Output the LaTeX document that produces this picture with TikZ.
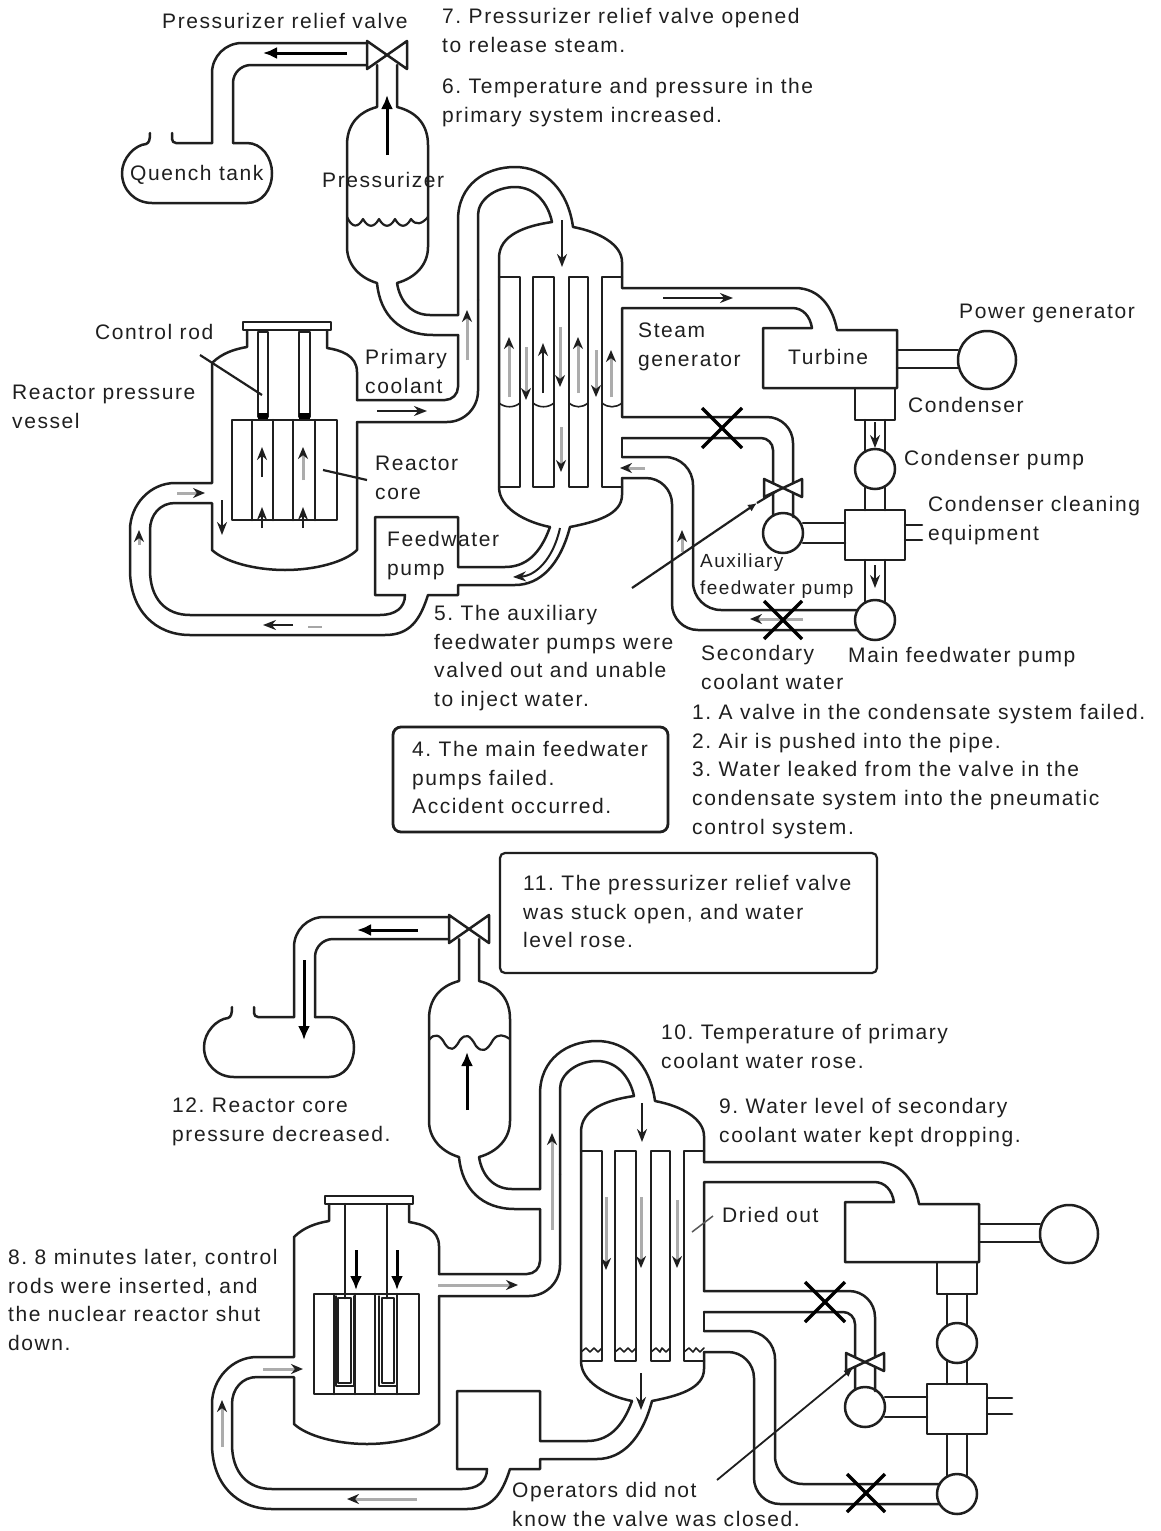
\documentclass[tikz,border=0pt]{standalone}
\usepackage{fontspec}
\setmainfont[LetterSpace=7.5]{Liberation Sans}
\usetikzlibrary{arrows.meta}
\frenchspacing
\definecolor{ink}{gray}{0.12}
\tikzset{
  pipe/.style={draw=ink,line width=2.5pt,line join=round,line cap=round},
  wavy/.style={pipe,line width=2.2pt},
  txt/.style={anchor=north west,inner sep=0pt,align=left,text=ink,
    font=\fontsize{21}{28.7}\selectfont\frenchspacing,execute at begin node={\rule{0pt}{20pt}}},
  smalltxt/.style={txt,font=\fontsize{19}{27}\selectfont\frenchspacing},
  blackarrow/.style={draw=black,line width=3pt,-{Latex[length=14pt,width=12pt]}},
  darkarrow/.style={draw=ink,line width=2pt,-{Stealth[length=13pt,width=10pt]}},
  grayarrow/.style={draw=gray!65,line width=3pt,-{Stealth[length=12pt,width=10pt,color=ink]}},
  crossbar/.style={draw=black,line width=3.4pt},
  leader/.style={draw=ink,line width=2.2pt},
  callout/.style={draw=ink,line width=2.8pt}
}
\newcommand{\tiedvalve}[4]{% cx cy halfwidth halfheight
  \draw[pipe,fill=white] (#1,#2) -- (#1-#3,#2-#4) -- (#1-#3,#2+#4) -- cycle;
  \draw[pipe,fill=white] (#1,#2) -- (#1+#3,#2-#4) -- (#1+#3,#2+#4) -- cycle;}
\newcommand{\crossout}[3]{% cx cy half
  \draw[crossbar] (#1-#3,#2-#3) -- (#1+#3,#2+#3);
  \draw[crossbar] (#1-#3,#2+#3) -- (#1+#3,#2-#3);}
\newcommand{\levelbump}[3]{% x1 x2 y
  \draw[pipe,line width=1.6pt] (#1,#3) .. controls (#1+6,#3+5) and (#2-6,#3+5) .. (#2,#3);}
\newcommand{\plantbase}{%
  % relief line and quench tank
  \draw[pipe,rounded corners=30pt] (367,43) -- (212,43) -- (212,143);
  \draw[pipe,rounded corners=4pt] (212,143) -- (172,143) -- (172,133);
  \draw[pipe,rounded corners=18pt] (367,65) -- (233,65) -- (233,143);
  \draw[pipe] (233,143) -- (247,143) .. controls (262,143) and (272,158) .. (272,173)
     .. controls (272,190) and (262,203) .. (247,203) -- (152,203)
     .. controls (135,203) and (122,190) .. (122,173)
     .. controls (122,158) and (135,145) .. (146,144) .. controls (149,143) and (150,140) .. (150,133);
  % pressurizer and surge line
  \draw[pipe] (377,65) -- (377,107) .. controls (358,112) and (347,125) .. (347,145) -- (347,247)
     .. controls (347,265) and (360,278) .. (377,283) .. controls (380,315) and (400,335) .. (433,335) -- (458,335);
  \draw[pipe] (397,65) -- (397,107) .. controls (417,112) and (428,125) .. (428,145) -- (428,247)
     .. controls (428,265) and (415,278) .. (397,283) .. controls (400,302) and (412,315) .. (430,315) -- (458,315);
  % hot leg
  \draw[pipe] (458,315) -- (458,220) .. controls (458,185) and (485,167) .. (515,167)
     .. controls (545,167) and (568,190) .. (573,227) .. controls (600,232) and (622,245) .. (622,262) -- (622,288);
  \draw[pipe,rounded corners=13pt] (458,335) -- (458,400) -- (357,400);
  \draw[pipe,rounded corners=31pt] (357,422) -- (478,422) -- (478,300);
  \draw[pipe] (478,300) -- (478,215) .. controls (478,200) and (495,187) .. (515,187)
     .. controls (535,187) and (548,203) .. (552,222) .. controls (525,226) and (499,235) .. (499,258) -- (499,487)
     .. controls (499,508) and (525,522) .. (550,527);
  % steam generator tubes
  \draw[pipe] (499,277) -- (520,277) -- (520,487) -- (499,487);
  \draw[pipe] (533,277) rectangle (554,487);
  \draw[pipe] (569,277) rectangle (588,487);
  \draw[pipe] (622,277) -- (602,277) -- (602,487) -- (622,487);
  \draw[pipe] (622,478) -- (622,495) .. controls (622,515) and (595,522) .. (570,527);
  % steam line and turbine
  \draw[pipe] (622,288) -- (795,288) .. controls (820,288) and (833,308) .. (837,330) -- (897,330) -- (897,388) -- (763,388) -- (763,328) -- (812,328)
     .. controls (810,316) and (803,308) .. (792,308) -- (622,308) -- (622,417);
  \draw[pipe] (897,350) -- (958,350);
  \draw[pipe] (897,368) -- (958,368);
  \draw[pipe] (987,360) circle[radius=29pt];
  % condenser train
  \draw[pipe] (855,388) rectangle (895,420);
  \draw[pipe] (865,420) -- (865,452);
  \draw[pipe] (885,420) -- (885,452);
  \draw[pipe] (875,469) circle[radius=20pt];
  \draw[pipe] (865,487) -- (865,510);
  \draw[pipe] (885,487) -- (885,510);
  \draw[pipe] (845,510) rectangle (905,560);
  \draw[pipe] (865,560) -- (865,602);
  \draw[pipe] (885,560) -- (885,602);
  \draw[pipe] (875,620) circle[radius=20pt];
  % auxiliary feedwater
  \draw[pipe] (783,533) circle[radius=20pt];
  \draw[pipe] (803,523) -- (845,523);
  \draw[pipe] (803,543) -- (845,543);
  \draw[pipe,rounded corners=26pt] (622,417) -- (793,417) -- (793,517);
  \draw[pipe,rounded corners=12pt] (622,438) -- (773,438) -- (773,515);
  \draw[pipe] (622,438) -- (622,457);
  % main feedwater
  \draw[pipe,rounded corners=28pt] (622,457) -- (693,457) -- (693,610) -- (857,610);
  \draw[pipe,rounded corners=26pt] (622,478) -- (672,478) -- (672,630) -- (857,630);
  % feedwater pump and cold leg
  \draw[pipe] (550,527) .. controls (540,555) and (525,567) .. (505,567) -- (458,567) -- (458,517) -- (375,517) -- (375,595) -- (405,595)
     .. controls (405,608) and (395,615) .. (380,615) -- (190,615)
     .. controls (165,615) and (150,598) .. (150,570) -- (150,530)
     .. controls (150,515) and (160,503) .. (175,503) -- (212,503) -- (212,550)
     .. controls (225,562) and (255,570) .. (285,570) .. controls (315,570) and (345,562) .. (357,550) -- (357,422);
  \draw[pipe] (570,527) .. controls (560,565) and (540,585) .. (515,585) -- (458,585) -- (458,595) -- (428,595)
     .. controls (420,620) and (410,635) .. (385,635) -- (190,635)
     .. controls (155,635) and (130,610) .. (130,570) -- (130,530)
     .. controls (130,505) and (150,483) .. (175,483) -- (212,483) -- (212,363)
     .. controls (222,353) and (235,349) .. (247,347) -- (247,330);
  \draw[pipe] (327,330) -- (327,348) .. controls (340,350) and (357,355) .. (357,372) -- (357,400);
  \draw[pipe] (243,322) rectangle (331,330);
  % core
  \draw[pipe] (232,420) rectangle (337,520);
  \foreach \cx in {252,273,293,315}{\draw[pipe] (\cx,420) -- (\cx,520);}
  % valves
  \tiedvalve{387}{55}{20}{14}
  \tiedvalve{783}{488}{19}{9}
}
\begin{document}
\begin{tikzpicture}[x=1pt,y=-1pt]
\useasboundingbox (0,0) rectangle (1160,1531);
\fill[white] (0,0) rectangle (1160,1531);

%% ---------- upper plant ----------
\plantbase
\draw[pipe] (905,525) -- (922,525);
\draw[pipe] (905,540) -- (922,540);
% control rods
\draw[pipe] (258,332) -- (258,417) -- (268,417) -- (268,332) -- cycle;
\draw[pipe] (299,332) -- (299,417) -- (310,417) -- (310,332) -- cycle;
\fill[black] (258,413) rectangle (268,419);
\fill[black] (299,413) rectangle (310,419);
% water levels
\draw[wavy] (347,217) .. controls (352,228) and (358,228) .. (363,219) .. controls (368,228) and (374,228) .. (379,219) .. controls (384,228) and (390,228) .. (395,219) .. controls (400,228) and (406,228) .. (411,219) .. controls (416,226) and (422,224) .. (428,217);
\levelbump{499}{520}{403}
\levelbump{533}{554}{403}
\levelbump{569}{588}{403}
\levelbump{602}{622}{403}
% second bent tube below steam generator
\draw[darkarrow] (560,528) .. controls (553,560) and (535,576) .. (513,577);
% arrows
\draw[blackarrow] (347,53) -- (263,53);
\draw[blackarrow] (387,155) -- (387,95);
\draw[grayarrow] (467,360) -- (467,310);
\draw[darkarrow] (562,220) -- (562,267);
\draw[grayarrow] (509,397) -- (509,337);
\draw[darkarrow] (543,393) -- (543,343);
\draw[grayarrow] (578,393) -- (578,337);
\draw[grayarrow] (611,397) -- (611,350);
\draw[grayarrow] (526,347) -- (526,400);
\draw[grayarrow] (560,327) -- (560,387);
\draw[grayarrow] (596,350) -- (596,397);
\draw[grayarrow] (561,427) -- (561,472);
\draw[darkarrow] (663,298) -- (733,298);
\draw[grayarrow] (645,468) -- (620,468);
\draw[grayarrow] (682,552) -- (682,530);
\draw[darkarrow] (875,422) -- (875,448);
\draw[darkarrow] (875,565) -- (875,588);
\draw[grayarrow] (803,619) -- (750,619);
\draw[darkarrow] (377,411) -- (427,411);
\draw[grayarrow] (177,493) -- (205,493);
\draw[darkarrow] (222,500) -- (222,535);
\draw[grayarrow] (139,545) -- (139,530);
\draw[darkarrow] (293,625) -- (263,625);
\draw[gray!70,line width=2pt] (308,627) -- (322,627);
\draw[darkarrow] (262,477) -- (262,447);
\draw[grayarrow] (303,480) -- (303,447);
\draw[darkarrow] (262,528) -- (262,507);
\draw[darkarrow] (303,528) -- (303,507);
% crosses
\crossout{722}{428}{20}
\crossout{783}{620}{19}

%% ---------- lower plant ----------
\begin{scope}[shift={(82,874)}]
\plantbase
\draw[wavy] (347,166) .. controls (352,159) and (358,160) .. (363,170) .. controls (368,177) and (372,177) .. (378,166) .. controls (384,159) and (388,161) .. (394,172) .. controls (400,179) and (405,177) .. (411,166) .. controls (416,159) and (422,161) .. (428,165);
\foreach \xa/\xb in {499/520,533/554,569/588,602/622}{
  \draw[pipe,line width=1.6pt] (\xa,478) -- (\xa+5,474) -- (\xa+9,478) -- (\xb-8,474) -- (\xb-4,478) -- (\xb,474);
}
\end{scope}
\draw[pipe] (987,1398) -- (1012,1398);
\draw[pipe] (987,1414) -- (1012,1414);
% inserted control rods
\draw[pipe] (345,1204) -- (345,1298);
\draw[pipe] (387,1204) -- (387,1298);
\draw[pipe] (338,1298) rectangle (351,1383);
\draw[pipe] (382,1298) rectangle (394,1383);
\draw[pipe,line width=1.4pt] (336,1296) -- (336,1386) -- (354,1386) -- (354,1296);
\draw[pipe,line width=1.4pt] (379,1296) -- (379,1386) -- (397,1386) -- (397,1296);
% arrows
\draw[blackarrow] (418,930) -- (357,930);
\draw[blackarrow] (304,960) -- (304,1040);
\draw[blackarrow] (467,1110) -- (467,1052);
\draw[grayarrow] (552,1230) -- (552,1133);
\draw[darkarrow] (642,1103) -- (642,1142);
\draw[darkarrow] (641,1373) -- (641,1410);
\draw[grayarrow] (606,1197) -- (606,1270);
\draw[grayarrow] (641,1197) -- (641,1268);
\draw[grayarrow] (677,1200) -- (677,1268);
\draw[blackarrow] (356,1250) -- (356,1290);
\draw[blackarrow] (397,1250) -- (397,1290);
\draw[grayarrow] (438,1285) -- (518,1285);
\draw[grayarrow] (263,1369) -- (303,1369);
\draw[grayarrow] (222,1447) -- (222,1400);
\draw[grayarrow] (417,1499) -- (347,1499);
% crosses
\crossout{825}{1302}{20}
\crossout{866}{1493}{19}

%% ---------- callout boxes ----------
\draw[callout,rounded corners=8pt] (393,727) rectangle (668,832);
\draw[callout,line width=2.2pt,rounded corners=5pt] (500,853) rectangle (877,973);

%% ---------- texts ----------
\node[txt] (tReliefValve) at (162,8) {Pressurizer relief valve};
\node[txt] (t7) at (442,8) {7. Pressurizer relief valve opened\\to release steam.};
\node[txt] (t6) at (442,78) {6. Temperature and pressure in the\\primary system increased.};
\node[txt] (tQuench) at (130,160) {Quench tank};
\node[txt] (tPressurizer) at (322,167) {Pressurizer};
\node[txt] (tPrimary) at (365,349) {Primary\\coolant};
\node[txt] (tControlRod) at (95,319) {Control rod};
\node[txt] (tVessel) at (12,385) {Reactor pressure\\vessel};
\node[txt] (tCore) at (375,456) {Reactor\\core};
\node[txt] (tFeed) at (387,531) {Feedwater\\pump};
\node[txt] (tSG) at (638,323) {Steam\\generator};
\node[txt] (tTurbine) at (788,344) {Turbine};
\node[txt] (tPower) at (959,298) {Power generator};
\node[txt] (tCondenser) at (908,392) {Condenser};
\node[txt] (tCondPump) at (904,445) {Condenser pump};
\node[txt] (tCleaning) at (928,496) {Condenser cleaning\\equipment};
\node[smalltxt] (tAux) at (700,554) {Auxiliary\\feedwater pump};
\node[txt] (t5) at (434,605) {5. The auxiliary\\feedwater pumps were\\valved out and unable\\to inject water.};
\node[txt] (tSecondary) at (701,645) {Secondary\\coolant water};
\node[txt] (tMainPump) at (848,642) {Main feedwater pump};
\node[txt] (t1) at (692,704) {1. A valve in the condensate system failed.\\2. Air is pushed into the pipe.\\3. Water leaked from the valve in the\\condensate system into the pneumatic\\control system.};
\node[txt] (t4) at (412,741) {4. The main feedwater\\pumps failed.\\Accident occurred.};
\node[txt] (t11) at (523,875) {11. The pressurizer relief valve\\was stuck open, and water\\level rose.};
\node[txt] (t10) at (661,1024) {10. Temperature of primary\\coolant water rose.};
\node[txt] (t9) at (719,1098) {9. Water level of secondary\\coolant water kept dropping.};
\node[txt] (tDried) at (722,1202) {Dried out};
\node[txt] (t12) at (172,1098) {12. Reactor core\\pressure decreased.};
\node[txt] (t8) at (8,1249) {8. 8 minutes later, control\\rods were inserted, and\\the nuclear reactor shut\\down.};
\node[txt] (tOps) at (512,1482) {Operators did not\\know the valve was closed.};

%% ---------- leaders ----------
\coordinate (lRodStart) at (200,355);
\coordinate (lRodEnd) at (262,395);
\draw[leader] (lRodStart) -- (lRodEnd);
\coordinate (lCoreIn) at (323,470);
\coordinate (lCoreOut) at (367,480);
\draw[leader] (lCoreOut) -- (lCoreIn);
\coordinate (lAuxStart) at (632,588);
\coordinate (lAuxMid) at (757,503);
\coordinate (lAuxEnd) at (777,491);
\draw[leader,-{Latex[length=9pt,width=8pt]}] (lAuxStart) -- (lAuxMid);
\draw[leader] (lAuxMid) -- (lAuxEnd);
\coordinate (lOpsStart) at (717,1480);
\coordinate (lOpsEnd) at (853,1368);
\draw[leader,line width=1.8pt,-{Latex[length=9pt,width=8pt]}] (lOpsStart) -- (lOpsEnd);
\coordinate (lDriedOut) at (713,1216);
\coordinate (lDriedIn) at (692,1232);
\draw[leader,line width=1.5pt,draw=gray!70!black] (lDriedOut) -- (lDriedIn);
\end{tikzpicture}
\end{document}
